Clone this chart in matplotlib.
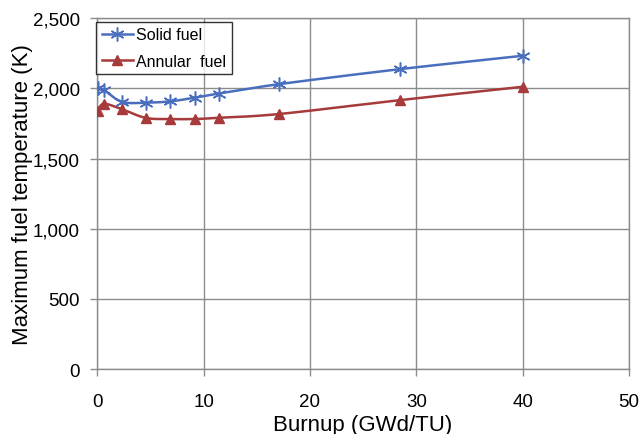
import numpy as np
import matplotlib
matplotlib.use("Agg")
from matplotlib import pyplot as plt
from matplotlib.ticker import FuncFormatter

plt.rcParams['font.family'] = ['Liberation Sans', 'DejaVu Sans']

burnup = [0.1, 0.6, 2.3, 4.56, 6.87, 9.15, 11.44, 17.13, 28.5, 40.0]
solid_temp = [2000, 1990, 1905, 1898, 1908, 1934, 1964, 2031, 2138, 2233]
annular_temp = [1838, 1891, 1853, 1790, 1782, 1782, 1791, 1818, 1917, 2012]


def smooth(x, y, n=30):
    # Catmull-Rom style curve through the points, like a spreadsheet "smoothed line"
    x = np.asarray(x, float)
    y = np.asarray(y, float)
    px = np.concatenate([[x[0]], x, [x[-1]]])
    py = np.concatenate([[y[0]], y, [y[-1]]])
    xs, ys = [], []
    t = np.linspace(0, 1, n)
    for i in range(1, len(px) - 2):
        p0, p1, p2, p3 = (np.array([px[j], py[j]]) for j in (i - 1, i, i + 1, i + 2))
        c1 = p1 + (p2 - p0) / 6.0
        c2 = p2 - (p3 - p1) / 6.0
        b = ((1 - t) ** 3)[:, None] * p1 + (3 * (1 - t) ** 2 * t)[:, None] * c1 \
            + (3 * (1 - t) * t ** 2)[:, None] * c2 + (t ** 3)[:, None] * p2
        xs.append(b[:, 0])
        ys.append(b[:, 1])
    return np.concatenate(xs), np.concatenate(ys)


blue = '#4A6EBE'
red = '#A73A3A'

fig = plt.figure(figsize=(6.4, 4.35), dpi=100)
ax = fig.add_axes([0.1519, 0.1494, 0.8309, 0.8062])

sx, sy = smooth(burnup, solid_temp)
ax.plot(sx, sy, color=blue, lw=1.8, zorder=3)
ax.plot(burnup, solid_temp, ls='none', marker=(6, 2, 0), ms=10, mew=1.1,
        color=blue, zorder=4)
ax.plot([], [], color=blue, lw=1.8, marker=(6, 2, 0), ms=10, mew=1.1,
        label='Solid fuel')

ax_, ay = smooth(burnup, annular_temp)
ax.plot(ax_, ay, color=red, lw=1.8, zorder=3)
ax.plot(burnup, annular_temp, ls='none', marker='^', ms=7.5, color=red, zorder=4)
ax.plot([], [], color=red, lw=1.8, marker='^', ms=7.5, label='Annular  fuel')

ax.set_xlim(0, 50)
ax.set_ylim(0, 2500)
ax.set_xticks(range(0, 51, 10))
ax.set_yticks(range(0, 2501, 500))
ax.yaxis.set_major_formatter(FuncFormatter(lambda v, p: f'{int(v):,}'))
ax.grid(True, color='#8C8C8C', lw=1.0)
ax.set_axisbelow(True)
for s in ax.spines.values():
    s.set_color('#8C8C8C')
    s.set_linewidth(1.0)
ax.tick_params(direction='out', length=5, width=1.0, color='#8C8C8C',
               labelsize=13.5)
ax.tick_params(axis='x', pad=12)
ax.tick_params(axis='y', pad=7.5)

ax.set_xlabel('Burnup (GWd/TU)', fontsize=16, labelpad=3)
ax.set_ylabel('Maximum fuel temperature (K)', fontsize=16, labelpad=0)

leg = ax.legend(loc='upper left', bbox_to_anchor=(-0.002, 0.990), fontsize=11.5,
                frameon=True, fancybox=False, borderaxespad=0.0,
                handlelength=1.95, handletextpad=0.2, labelspacing=0.7,
                borderpad=0.35)
leg.get_frame().set_edgecolor('black')
leg.get_frame().set_linewidth(1.0)

fig.savefig('out.png', dpi=100)
